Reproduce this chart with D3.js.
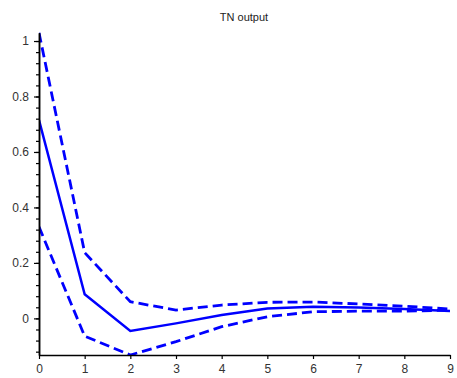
<!DOCTYPE html>
<html><head><meta charset="utf-8">
<script src="https://cdn.jsdelivr.net/npm/d3@7"></script>
<style>body{margin:0;background:#fff}svg{display:block}</style>
</head><body>
<svg id="c" width="457" height="378"></svg>
<script>
const xs = [0,1,2,3,4,5,6,7,8,9];
const mid   = [0.715, 0.087, -0.045, -0.018, 0.012, 0.036, 0.042, 0.039, 0.034, 0.027];
const upper = [1.03, 0.237, 0.060, 0.030, 0.048, 0.058, 0.059, 0.052, 0.044, 0.034];
const lower = [0.33, -0.064, -0.132, -0.084, -0.030, 0.006, 0.024, 0.026, 0.026, 0.030];
const yTicks = [0, 0.2, 0.4, 0.6, 0.8, 1];
const xTicks = [0,1,2,3,4,5,6,7,8,9];
const title = "TN output";

const svg = d3.select("#c");
const x = d3.scaleLinear().domain([0, 9]).range([39, 450]);
const y = d3.scaleLinear().domain([-0.132, 1.03]).range([355, 32.7]);

svg.append("text").attr("x", 244).attr("y", 21).attr("text-anchor", "middle")
  .attr("font-family", "Liberation Sans, Arial, sans-serif").attr("font-size", 11).attr("fill", "#222").text(title);

svg.append("clipPath").attr("id", "cp").append("rect")
  .attr("x", 39).attr("y", 32).attr("width", 413).attr("height", 324);

const line = d3.line().x((d, i) => x(xs[i])).y(d => y(d));
const g = svg.append("g").attr("clip-path", "url(#cp)");
g.append("path").datum(upper).attr("d", line).attr("fill", "none").attr("stroke", "#0000ff").attr("stroke-width", 2.8).attr("stroke-dasharray", "10,5");
g.append("path").datum(lower).attr("d", line).attr("fill", "none").attr("stroke", "#0000ff").attr("stroke-width", 2.8).attr("stroke-dasharray", "10,5");
g.append("path").datum(mid).attr("d", line).attr("fill", "none").attr("stroke", "#0000ff").attr("stroke-width", 2.5);

// axes
const font = "Liberation Sans, Arial, sans-serif";
const xa = svg.append("g").attr("transform", "translate(0,355)")
  .call(d3.axisBottom(x).tickValues(xTicks).tickFormat(d3.format("d")).tickSize(4).tickSizeOuter(0));
const minor = d3.range(-0.12, 1.0301, 0.04).map(v => Math.round(v * 100) / 100);
const yaMinor = svg.append("g").attr("transform", "translate(39,0)")
  .call(d3.axisLeft(y).tickValues(minor).tickFormat("").tickSize(3).tickSizeOuter(0));
const ya = svg.append("g").attr("transform", "translate(39,0)")
  .call(d3.axisLeft(y).tickValues(yTicks).tickFormat(d => d === 0 ? "0" : d3.format("")(d)).tickSize(5).tickSizeOuter(0));
[xa, ya, yaMinor].forEach(a => {
  a.select(".domain").attr("stroke", "#000").attr("stroke-width", 1.5);
  a.selectAll(".tick line").attr("stroke", "#000").attr("stroke-width", 1.2);
  a.selectAll("text").attr("font-family", font).attr("font-size", 12).attr("fill", "#333");
});
xa.selectAll("text").attr("dy", "0.95em");
ya.selectAll("text").attr("dx", "-2");
</script>
</body></html>
